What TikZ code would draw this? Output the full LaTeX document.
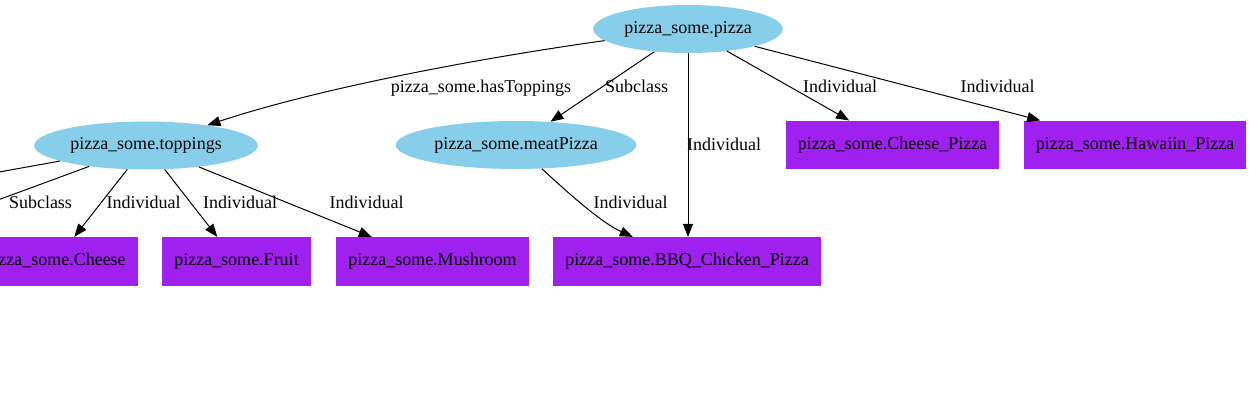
\documentclass[tikz,border=0pt]{standalone}
\usepackage{fontspec}
\setmainfont{Liberation Serif}
\usetikzlibrary{shapes.geometric,arrows.meta}
\definecolor{nodeblue}{HTML}{87CEEB}
\definecolor{nodepurple}{HTML}{A020F0}
\tikzset{
  classnode/.style={ellipse,fill=nodeblue,inner xsep=2.5pt,inner ysep=2pt,minimum height=36pt},
  indnode/.style={rectangle,fill=nodepurple,inner xsep=9pt,minimum height=36.5pt},
  edge/.style={draw=black,line width=0.75pt,-{Triangle[length=9.75pt,width=7.5pt]}},
  lbl/.style={anchor=base,inner sep=0pt}
}
\begin{document}
\begin{tikzpicture}[x=0.75pt,y=0.75pt,yscale=-1,xscale=1,font=\fontsize{13.5}{16}\selectfont]
\useasboundingbox (0,0) rectangle (1252,407);
\clip (0,0) rectangle (1252,407);
% classes
\node[classnode] (pizza) at (688,29) {pizza\_some.pizza};
\node[classnode] (toppings) at (146,145.5) {pizza\_some.toppings};
\node[classnode] (meat) at (516,145) {pizza\_some.meatPizza};
% individuals
\node[indnode] (cheese) at (55,261.5) {pizza\_some.Cheese};
\node[indnode] (fruit) at (236.5,261.5) {pizza\_some.Fruit};
\node[indnode] (mushroom) at (432.5,261.5) {pizza\_some.Mushroom};
\node[indnode] (bbq) at (687,261.5) {pizza\_some.BBQ\_Chicken\_Pizza};
\node[indnode] (cheesepizza) at (892.5,145) {pizza\_some.Cheese\_Pizza};
\node[indnode] (hawaiin) at (1135,145) {pizza\_some.Hawaiin\_Pizza};
% off-page ends
\coordinate (lostA) at (-200,208);
\coordinate (lostB) at (-100,236);
% connectors
\draw[edge] (pizza) .. controls (480,58) and (320,88) .. (toppings);
\draw[edge] (pizza) -- (meat);
\draw[edge] (pizza.south) -- (bbq.north -| pizza.south);
\draw[edge] (pizza) -- (cheesepizza);
\draw[edge] (pizza) -- (hawaiin);
\draw[edge] (meat) .. controls (565,190) and (600,222) .. (bbq);
\draw[edge] (toppings) -- (cheese);
\draw[edge] (toppings) -- (fruit);
\draw[edge] (toppings) -- (mushroom);
\draw[edge] (toppings) -- (lostA);
\draw[edge] (toppings) -- (lostB);
% labels
\node[lbl] (l1) at (481,92) {pizza\_some.hasToppings};
\node[lbl] (l2) at (636.5,92) {Subclass};
\node[lbl] (l3) at (724,150) {Individual};
\node[lbl] (l4) at (840,92) {Individual};
\node[lbl] (l5) at (997.5,92) {Individual};
\node[lbl] (l6) at (630.5,208) {Individual};
\node[lbl] (l7) at (40.5,208) {Subclass};
\node[lbl] (l8) at (143.5,208) {Individual};
\node[lbl] (l9) at (240,208) {Individual};
\node[lbl] (l10) at (366.5,208) {Individual};
\end{tikzpicture}
\end{document}
